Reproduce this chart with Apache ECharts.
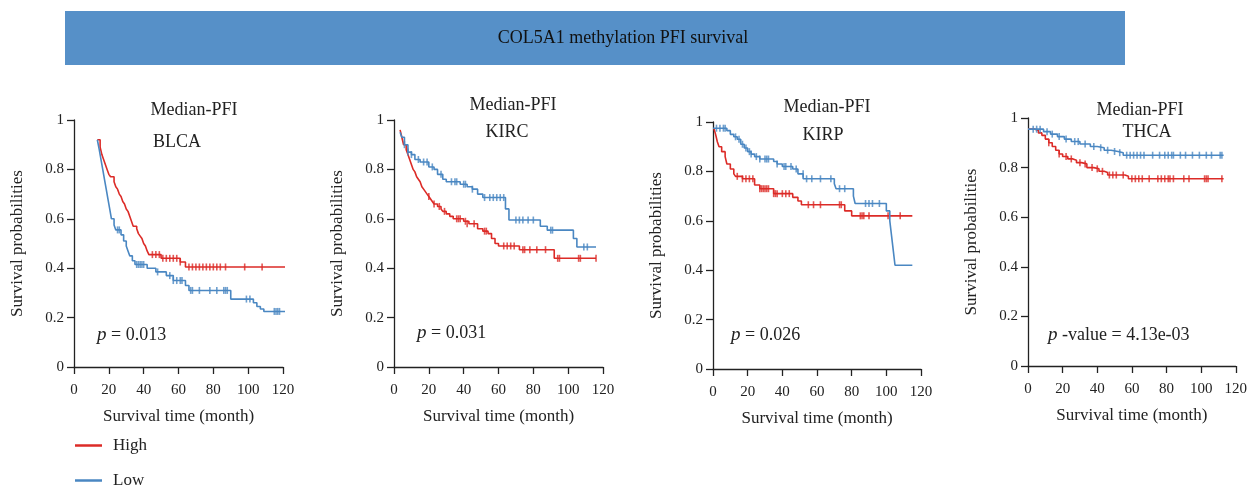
<!DOCTYPE html>
<html><head><meta charset="utf-8">
<script src="https://cdn.jsdelivr.net/npm/echarts@6/dist/echarts.min.js"></script>
<style>html,body{margin:0;padding:0;background:#fff}#c{width:1250px;height:486px}</style>
</head><body><div id="c"></div>
<script>
const chartTitle = 'COL5A1 methylation PFI survival';
const cancers = ['BLCA','KIRC','KIRP','THCA'];
const pTexts = ['= 0.013','= 0.031','= 0.026','-value = 4.13e-03'];
const xTicks = [0,20,40,60,80,100,120];
const yTicks = [0,0.2,0.4,0.6,0.8,1];

// Kaplan-Meier steps [month, survival]
const blcaHigh = [[13.4,0.92],[15,0.89],[16,0.86],[17,0.84],[18,0.82],[19,0.80],[20,0.78],[21,0.77],[23,0.75],[24,0.73],[25,0.72],[26,0.70],[27,0.69],[28,0.67],[29,0.66],[30,0.64],[31,0.63],[32,0.61],[33,0.59],[34,0.57],[36,0.56],[37,0.54],[38,0.53],[39,0.52],[40,0.50],[41,0.49],[42,0.47],[43,0.455],[50,0.44],[61,0.425],[64,0.405],[124,0.405]];
const blcaLow = [[13.4,0.92],[14.5,0.88],[15.5,0.84],[16.5,0.80],[17.5,0.76],[18.5,0.72],[19.5,0.68],[20.5,0.64],[21.5,0.60],[23,0.575],[24,0.555],[27,0.535],[28.5,0.51],[30,0.49],[31,0.47],[32,0.45],[33.5,0.43],[35,0.415],[42,0.40],[47,0.385],[53,0.37],[57,0.35],[64,0.33],[66,0.31],[90,0.275],[103,0.26],[105,0.245],[107,0.235],[109,0.225],[124,0.225]];
const kircHigh = [[3.5,0.96],[4.5,0.93],[5.5,0.90],[7,0.88],[8,0.86],[9,0.84],[10,0.82],[11,0.80],[12,0.79],[13,0.77],[14,0.76],[15,0.75],[16,0.73],[17,0.72],[18,0.71],[19,0.70],[20,0.69],[21,0.68],[22,0.67],[23,0.66],[25,0.65],[27,0.64],[28,0.63],[30,0.62],[32,0.61],[34,0.60],[40,0.59],[43,0.58],[48,0.56],[51,0.55],[54,0.54],[56,0.52],[58,0.50],[60,0.49],[72,0.475],[92,0.44],[116,0.44]];
const kircLow = [[3.5,0.95],[4.5,0.93],[6,0.90],[8,0.87],[10,0.86],[12,0.84],[15,0.83],[20,0.81],[23,0.80],[25,0.78],[28,0.76],[30,0.75],[38,0.74],[42,0.73],[45,0.72],[48,0.70],[51,0.686],[64,0.64],[66,0.595],[84,0.57],[88,0.554],[103,0.52],[105,0.486],[116,0.486]];
const kirpHigh = [[0.5,0.975],[1.5,0.95],[2.5,0.92],[3.5,0.90],[5,0.88],[7,0.86],[8,0.83],[10,0.81],[12,0.79],[13,0.78],[17,0.77],[24,0.745],[27,0.73],[35,0.71],[46,0.695],[49,0.68],[51,0.665],[76,0.64],[80,0.62],[115,0.62]];
const kirpLow = [[0,0.975],[8,0.965],[10,0.95],[12,0.94],[14,0.93],[16,0.91],[18,0.895],[20,0.88],[22,0.87],[24,0.86],[27,0.85],[35,0.84],[37,0.83],[40,0.82],[46,0.81],[49,0.79],[52,0.77],[70,0.75],[71,0.73],[81,0.70],[82,0.67],[100,0.64],[102,0.60],[103,0.54],[104,0.48],[105,0.42],[115,0.42]];
const thcaHigh = [[0,0.955],[4,0.95],[6,0.94],[8,0.93],[10,0.915],[12,0.90],[14,0.885],[16,0.87],[18,0.855],[20,0.845],[23,0.835],[26,0.83],[28,0.82],[31,0.815],[34,0.80],[38,0.795],[41,0.785],[44,0.78],[46,0.77],[56,0.765],[58,0.755],[113,0.755]];
const thcaLow = [[0,0.955],[9,0.945],[13,0.935],[17,0.925],[21,0.915],[25,0.905],[30,0.895],[36,0.885],[40,0.88],[44,0.87],[48,0.865],[52,0.86],[55,0.85],[113,0.85]];

// censor marks [month, survival]
const blcaHighCens = [[45,0.455],[47,0.455],[49,0.455],[51,0.44],[53,0.44],[55,0.44],[57,0.44],[59,0.44],[61,0.425],[66,0.405],[68,0.405],[70,0.405],[72,0.405],[74,0.405],[76,0.405],[78,0.405],[80,0.405],[82,0.405],[84,0.405],[87,0.405],[98,0.405],[108,0.405]];
const blcaLowCens = [[25,0.555],[26,0.555],[36,0.415],[37,0.415],[38,0.415],[39,0.415],[40,0.415],[48,0.385],[55,0.37],[57,0.35],[59,0.35],[61,0.35],[62,0.35],[67,0.31],[68,0.31],[72,0.31],[78,0.31],[82,0.31],[86,0.31],[87,0.31],[88,0.31],[99,0.275],[101,0.275],[115,0.225],[116,0.225],[117,0.225],[118,0.225]];
const kircHighCens = [[20,0.69],[23,0.66],[26,0.65],[29,0.63],[36,0.60],[37,0.60],[38,0.60],[41,0.59],[42,0.58],[46,0.58],[52,0.55],[53,0.55],[63,0.49],[65,0.49],[67,0.49],[69,0.49],[74,0.475],[75,0.475],[78,0.475],[82,0.475],[87,0.475],[94,0.44],[95,0.44],[106,0.44],[107,0.44],[116,0.44]];
const kircLowCens = [[6,0.90],[8,0.87],[10,0.86],[14,0.84],[17,0.83],[19,0.83],[22,0.81],[27,0.78],[33,0.75],[35,0.75],[36,0.75],[40,0.74],[41,0.74],[45,0.72],[52,0.686],[55,0.686],[57,0.686],[59,0.686],[61,0.686],[63,0.686],[70,0.595],[72,0.595],[74,0.595],[77,0.595],[80,0.595],[90,0.554],[91,0.554],[109,0.486],[111,0.486]];
const kirpHighCens = [[14,0.78],[17,0.77],[19,0.77],[21,0.77],[23,0.77],[27,0.73],[28,0.73],[29,0.73],[30,0.73],[31,0.73],[32,0.73],[35,0.71],[36,0.71],[37,0.71],[40,0.71],[42,0.71],[44,0.71],[55,0.665],[58,0.665],[62,0.665],[73,0.665],[74,0.665],[85,0.62],[86,0.62],[87,0.62],[90,0.62],[101,0.62],[108,0.62]];
const kirpLowCens = [[2,0.975],[4,0.975],[6,0.975],[7,0.975],[13,0.94],[15,0.93],[17,0.91],[19,0.895],[21,0.88],[22,0.87],[25,0.86],[27,0.85],[30,0.85],[31,0.85],[32,0.85],[37,0.83],[41,0.82],[42,0.82],[45,0.82],[48,0.81],[52,0.79],[54,0.77],[57,0.77],[62,0.77],[68,0.77],[73,0.73],[76,0.73],[88,0.67],[90,0.67],[92,0.67],[96,0.67]];
const thcaHighCens = [[12,0.90],[18,0.855],[22,0.845],[25,0.835],[30,0.82],[33,0.815],[37,0.80],[40,0.795],[43,0.785],[47,0.77],[49,0.77],[51,0.77],[55,0.77],[60,0.755],[62,0.755],[64,0.755],[66,0.755],[70,0.755],[75,0.755],[77,0.755],[79,0.755],[81,0.755],[82,0.755],[84,0.755],[90,0.755],[93,0.755],[102,0.755],[103,0.755],[104,0.755],[112,0.755]];
const thcaLowCens = [[3,0.955],[5,0.955],[7,0.955],[11,0.945],[14,0.935],[18,0.925],[22,0.915],[27,0.905],[29,0.905],[33,0.895],[38,0.885],[42,0.88],[46,0.87],[50,0.865],[53,0.86],[57,0.85],[59,0.85],[61,0.85],[63,0.85],[65,0.85],[67,0.85],[72,0.85],[76,0.85],[79,0.85],[81,0.85],[83,0.85],[84,0.85],[88,0.85],[91,0.85],[95,0.85],[99,0.85],[103,0.85],[106,0.85],[111,0.85],[112,0.85]];

const highCurves = [blcaHigh, kircHigh, kirpHigh, thcaHigh];
const lowCurves = [blcaLow, kircLow, kirpLow, thcaLow];
const highCens = [blcaHighCens, kircHighCens, kirpHighCens, thcaHighCens];
const lowCens = [blcaLowCens, kircLowCens, kirpLowCens, thcaLowCens];

const RED = '#dc2b27', BLUE = '#4a87c2';
const FONT = 'Liberation Serif';
const grids = [
  {left:74, top:120, width:209, height:247},
  {left:394, top:120, width:209, height:247},
  {left:713, top:122, width:208, height:247},
  {left:1028, top:118, width:210, height:248}
];
const axisColor = '#222';
const xAxes = grids.map((g,i)=>({
  type:'value', gridIndex:i, min:0, max:120, interval:20,
  name:'Survival time (month)', nameLocation:'middle', nameGap:41,
  nameTextStyle:{fontFamily:FONT, fontSize:17, color:'#222'},
  axisLine:{lineStyle:{color:axisColor, width:1.3}},
  axisTick:{show:true, length:7, lineStyle:{color:axisColor, width:1.3}},
  axisLabel:{fontFamily:FONT, fontSize:15, color:'#222', margin:16},
  splitLine:{show:false}
}));
const yAxes = grids.map((g,i)=>({
  type:'value', gridIndex:i, min:0, max:1, interval:0.2,
  name:'Survival probabilities', nameLocation:'middle', nameGap:48,
  nameTextStyle:{fontFamily:FONT, fontSize:17, color:'#222'},
  axisLine:{show:true, lineStyle:{color:axisColor, width:1.3}},
  axisTick:{show:true, length:7, lineStyle:{color:axisColor, width:1.3}},
  axisLabel:{fontFamily:FONT, fontSize:15, color:'#222', margin:10,
    formatter:v=>String(Math.round(v*10)/10)},
  splitLine:{show:false}
}));
const series = [];
for (let i=0;i<4;i++){
  series.push({type:'line', name:'High', xAxisIndex:i, yAxisIndex:i, data:highCurves[i], step:'end', symbol:'none', clip:false, lineStyle:{color:RED, width:1.6}, itemStyle:{color:RED}, z:3});
  series.push({type:'line', name:'Low', xAxisIndex:i, yAxisIndex:i, data:lowCurves[i], step:'end', symbol:'none', clip:false, lineStyle:{color:BLUE, width:1.6}, itemStyle:{color:BLUE}, z:3});
  series.push({type:'scatter', name:'HighCens', xAxisIndex:i, yAxisIndex:i, data:highCens[i], symbol:'rect', symbolSize:[1.6,7], clip:false, itemStyle:{color:RED}, z:4});
  series.push({type:'scatter', name:'LowCens', xAxisIndex:i, yAxisIndex:i, data:lowCens[i], symbol:'rect', symbolSize:[1.6,7], clip:false, itemStyle:{color:BLUE}, z:4});
}
const medianPos = [[194,110],[513,105],[827,107],[1140,110]];
const cancerPos = [[177,142],[507,132],[823,135],[1147,132]];
const pPos = [[97,335],[417,333],[731,335],[1048,335]];
const graphics = [
  {type:'rect', shape:{x:65, y:11, width:1060, height:54}, style:{fill:'#5690c8'}},
  {type:'text', x:623, y:38, style:{text:chartTitle, fontFamily:FONT, fontSize:18, fill:'#111', align:'center', verticalAlign:'middle'}}
];
for (let i=0;i<4;i++){
  graphics.push({type:'text', x:medianPos[i][0], y:medianPos[i][1], style:{text:'Median-PFI', fontFamily:FONT, fontSize:18, fill:'#222', align:'center', verticalAlign:'middle'}});
  graphics.push({type:'text', x:cancerPos[i][0], y:cancerPos[i][1], style:{text:cancers[i], fontFamily:FONT, fontSize:18, fill:'#222', align:'center', verticalAlign:'middle'}});
  graphics.push({type:'text', x:pPos[i][0], y:pPos[i][1], style:{text:'{i|p} '+pTexts[i], fontFamily:FONT, fontSize:18, fill:'#222', verticalAlign:'middle',
    rich:{i:{fontFamily:FONT, fontStyle:'italic', fontSize:19, fill:'#222'}}}});
}
const chart = echarts.init(document.getElementById('c'), null, {renderer:'canvas'});
chart.setOption({
  animation:false,
  backgroundColor:'#fff',
  grid:grids,
  xAxis:xAxes, yAxis:yAxes,
  legend:{data:['High','Low'], orient:'vertical', left:75, top:437, height:60, padding:0, itemGap:18, itemWidth:27, itemHeight:2.5, icon:'rect',
    textStyle:{fontFamily:FONT, fontSize:17, color:'#222', padding:[0,0,0,6]}},
  graphic:graphics,
  series:series
});
</script></body></html>
